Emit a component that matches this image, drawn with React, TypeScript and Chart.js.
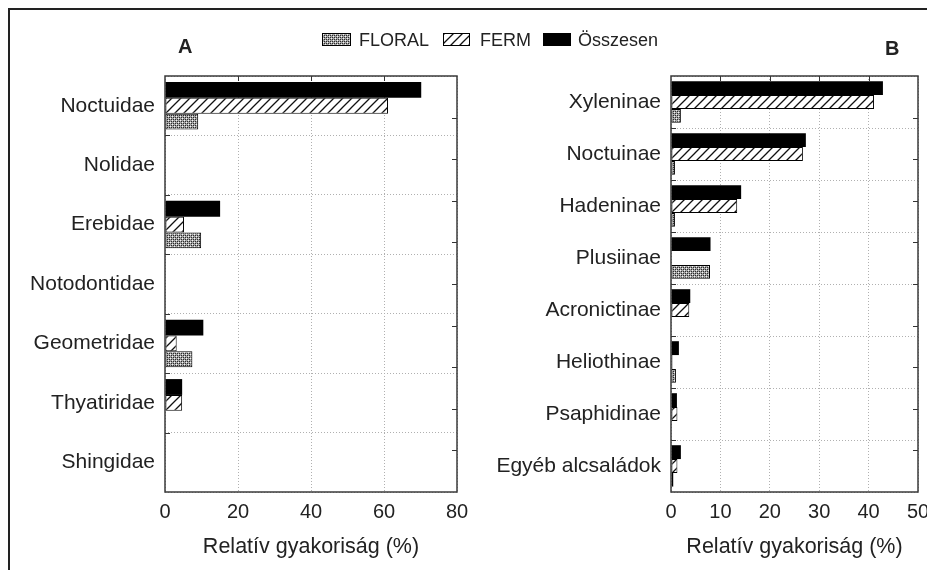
import React, { useEffect, useMemo, useRef } from "react";
import { Chart, registerables } from "chart.js";

Chart.register(...registerables);

// ---------- data ----------
const seriesNames = ["FLORAL", "FERM", "Összesen"];

const familiesA = ["Noctuidae", "Nolidae", "Erebidae", "Notodontidae", "Geometridae", "Thyatiridae", "Shingidae"];
const floralA = [9.1, 0, 9.9, 0, 7.5, 0, 0];
const fermA = [61.1, 0, 5.2, 0, 3.2, 4.7, 0];
const totalA = [70.2, 0, 15.1, 0, 10.5, 4.7, 0];
const xTicksA = [0, 20, 40, 60, 80];

const subfamiliesB = ["Xyleninae", "Noctuinae", "Hadeninae", "Plusiinae", "Acronictinae", "Heliothinae", "Psaphidinae", "Egyéb alcsaládok"];
const floralB = [2.0, 0.8, 0.8, 7.9, 0, 1.0, 0, 0.5];
const fermB = [41.1, 26.7, 13.4, 0, 3.7, 0.3, 1.3, 1.3];
const totalB = [42.9, 27.3, 14.2, 8.0, 3.9, 1.6, 1.2, 2.0];
const xTicksB = [0, 10, 20, 30, 40, 50];

const axisTitle = "Relatív gyakoriság (%)";
const panelLabels = ["A", "B"];

const FONT = "'Liberation Sans', Arial, sans-serif";
const TEXT = "#222";

// ---------- patterns ----------
function hatchCanvas(): HTMLCanvasElement {
  const p = 9;
  const c = document.createElement("canvas");
  c.width = p;
  c.height = p;
  const g = c.getContext("2d")!;
  g.fillStyle = "#fff";
  g.fillRect(0, 0, p, p);
  g.strokeStyle = "#111";
  g.lineWidth = 1.3;
  g.beginPath();
  g.moveTo(0, p);
  g.lineTo(p, 0);
  g.moveTo(-1, 1);
  g.lineTo(1, -1);
  g.moveTo(p - 1, p + 1);
  g.lineTo(p + 1, p - 1);
  g.stroke();
  return c;
}

function dotCanvas(): HTMLCanvasElement {
  const c = document.createElement("canvas");
  c.width = 4;
  c.height = 4;
  const g = c.getContext("2d")!;
  g.fillStyle = "#a4a4a4";
  g.fillRect(0, 0, 4, 4);
  g.fillStyle = "#f4f4f4";
  g.fillRect(0, 0, 1, 1);
  g.fillRect(2, 2, 1, 1);
  g.fillStyle = "#2a2a2a";
  g.fillRect(1, 1, 1, 1);
  g.fillRect(3, 3, 1, 1);
  g.fillRect(3, 1, 1, 1);
  g.fillRect(1, 3, 1, 1);
  return c;
}

// ---------- frame plugin ----------
const framePlugin = {
  id: "frameTicks",
  afterDraw(chart: any) {
    const { ctx, chartArea } = chart;
    const { left, right, top, bottom } = chartArea;
    const xs = chart.scales.x;
    const ys = chart.scales.y;
    ctx.save();
    ctx.strokeStyle = "#333";
    ctx.lineWidth = 1;
    ctx.beginPath();
    xs.ticks.forEach((_t: any, i: number) => {
      const px = Math.round(xs.getPixelForTick(i)) + 0.5;
      if (px > left + 2 && px < right - 2) {
        ctx.moveTo(px, top);
        ctx.lineTo(px, top + 5);
      }
    });
    const n = ys.ticks.length;
    for (let i = 1; i < n; i++) {
      const py = Math.round((ys.getPixelForTick(i - 1) + ys.getPixelForTick(i)) / 2) + 0.5;
      ctx.moveTo(left, py);
      ctx.lineTo(left + 5, py);
    }
    for (let k = 1; k < 10; k++) {
      const py = Math.round(top + ((bottom - top) * k) / 10) + 0.5;
      ctx.moveTo(right - 5, py);
      ctx.lineTo(right, py);
    }
    ctx.stroke();
    ctx.strokeStyle = "#3a3a3a";
    ctx.lineWidth = 1.5;
    ctx.strokeRect(left, top, right - left, bottom - top);
    ctx.restore();
  },
};

function zeroPad(s: any) {
  s.paddingLeft = 0;
  s.paddingRight = 0;
  s.paddingTop = 0;
  s.paddingBottom = 0;
}

function makeConfig(
  labels: string[],
  floral: number[],
  ferm: number[],
  total: number[],
  xTicks: number[],
  yWidth: number,
  padRight: number,
  floralPat: any,
  fermPat: any
): any {
  const common = { borderColor: "#000", borderWidth: 1, borderSkipped: false };
  return {
    type: "bar",
    data: {
      labels,
      datasets: [
        { label: seriesNames[2], data: total, backgroundColor: "#000", ...common, borderWidth: 0 },
        { label: seriesNames[1], data: ferm, backgroundColor: fermPat, ...common },
        { label: seriesNames[0], data: floral, backgroundColor: floralPat, ...common },
      ],
    },
    options: {
      indexAxis: "y",
      responsive: false,
      animation: false,
      devicePixelRatio: 1,
      layout: { padding: { left: 0, right: padRight, top: 76, bottom: 0 } },
      plugins: { legend: { display: false }, tooltip: { enabled: false } },
      datasets: { bar: { categoryPercentage: 0.8, barPercentage: 1 } },
      scales: {
        x: {
          min: xTicks[0],
          max: xTicks[xTicks.length - 1],
          ticks: {
            stepSize: xTicks[1] - xTicks[0],
            font: { family: FONT, size: 20 },
            color: TEXT,
            padding: 8,
            maxRotation: 0,
          },
          grid: { color: "#b0b0b0", drawTicks: false, lineWidth: 1 },
          border: { display: false, dash: [1, 2] },
          title: {
            display: true,
            text: axisTitle,
            font: { family: FONT, size: 21.5 },
            color: TEXT,
            padding: { top: 0, bottom: 10 },
          },
          afterFit: (s: any) => {
            s.height = 78;
            zeroPad(s);
          },
        },
        y: {
          grid: { offset: true, color: "#b0b0b0", drawTicks: false, lineWidth: 1 },
          border: { display: false, dash: [1, 2] },
          ticks: { font: { family: FONT, size: 21 }, color: TEXT, padding: 10, autoSkip: false },
          afterFit: (s: any) => {
            s.width = yWidth;
            zeroPad(s);
          },
        },
      },
    },
    plugins: [framePlugin],
  };
}

export default function App() {
  const refA = useRef<HTMLCanvasElement | null>(null);
  const refB = useRef<HTMLCanvasElement | null>(null);

  const pats = useMemo(() => {
    const h = hatchCanvas();
    const d = dotCanvas();
    return { h, d, hUrl: h.toDataURL(), dUrl: d.toDataURL() };
  }, []);

  useEffect(() => {
    const ctxA = refA.current!.getContext("2d")!;
    const ctxB = refB.current!.getContext("2d")!;
    const fermPatA = ctxA.createPattern(pats.h, "repeat");
    const floralPatA = ctxA.createPattern(pats.d, "repeat");
    const fermPatB = ctxB.createPattern(pats.h, "repeat");
    const floralPatB = ctxB.createPattern(pats.d, "repeat");
    const a = new Chart(refA.current!, makeConfig(familiesA, floralA, fermA, totalA, xTicksA, 165, 13, floralPatA, fermPatA));
    const b = new Chart(refB.current!, makeConfig(subfamiliesB, floralB, fermB, totalB, xTicksB, 201, 9, floralPatB, fermPatB));
    return () => {
      a.destroy();
      b.destroy();
    };
  }, [pats]);

  const legendItems = [
    { name: seriesNames[0], swLeft: 322, swW: 29, txtLeft: 359, bg: `url(${pats.dUrl})` },
    { name: seriesNames[1], swLeft: 443, swW: 27, txtLeft: 480, bg: `url(${pats.hUrl})` },
    { name: seriesNames[2], swLeft: 543, swW: 28, txtLeft: 578, bg: "#000" },
  ];

  return (
    <div
      style={{
        position: "absolute",
        left: 0,
        top: 0,
        width: 927,
        height: 570,
        overflow: "hidden",
        background: "#fff",
        fontFamily: FONT,
        color: TEXT,
      }}
    >
      <canvas ref={refA} width={470} height={570} style={{ position: "absolute", left: 0, top: 0, width: 470, height: 570 }} />
      <canvas ref={refB} width={457} height={570} style={{ position: "absolute", left: 470, top: 0, width: 457, height: 570 }} />
      <div
        style={{
          position: "absolute",
          left: 8,
          top: 8,
          width: 1000,
          height: 1000,
          borderLeft: "2px solid #222",
          borderTop: "2px solid #222",
          pointerEvents: "none",
        }}
      />
      {legendItems.map((it) => (
        <React.Fragment key={it.name}>
          <div
            style={{
              position: "absolute",
              left: it.swLeft,
              top: 33,
              width: it.swW,
              height: 13,
              boxSizing: "border-box",
              border: "1px solid #000",
              background: it.bg,
              imageRendering: "pixelated",
            }}
          />
          <div style={{ position: "absolute", left: it.txtLeft, top: 30, lineHeight: "20px", fontSize: 18, whiteSpace: "nowrap" }}>
            {it.name}
          </div>
        </React.Fragment>
      ))}
      <div style={{ position: "absolute", left: 178, top: 36, lineHeight: "20px", fontSize: 20, fontWeight: "bold" }}>{panelLabels[0]}</div>
      <div style={{ position: "absolute", left: 885, top: 38, lineHeight: "20px", fontSize: 20, fontWeight: "bold" }}>{panelLabels[1]}</div>
    </div>
  );
}
